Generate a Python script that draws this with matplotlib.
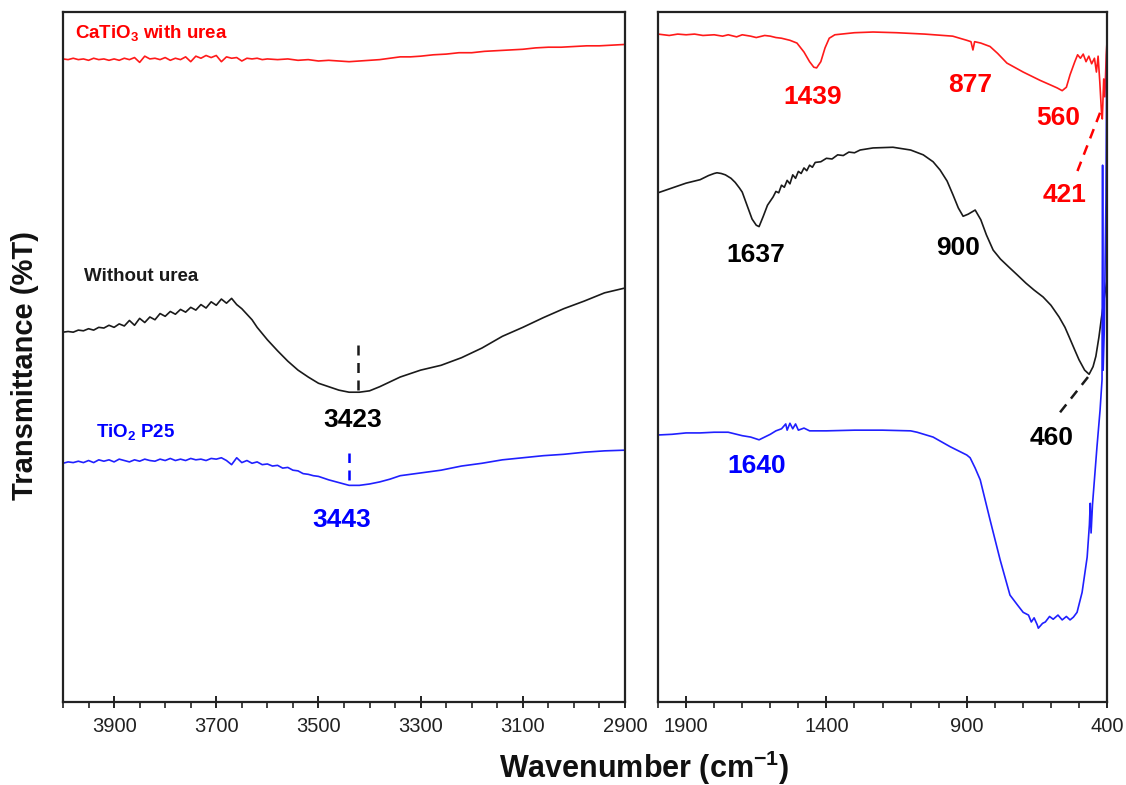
import matplotlib
matplotlib.use('Agg')
from matplotlib import pyplot as plt
from matplotlib.ticker import MultipleLocator

plt.rcParams['font.family'] = ['Liberation Sans', 'DejaVu Sans']
plt.rcParams['mathtext.default'] = 'regular'

# ---- left panel (4000-2900 cm-1) ----
wn_left_red = [4000, 3990, 3980, 3970, 3960, 3950, 3940, 3930, 3920, 3910, 3900, 3890, 3880,
               3870, 3860, 3850, 3840, 3830, 3820, 3810, 3800, 3790, 3780, 3770, 3760, 3750,
               3740, 3730, 3720, 3710, 3700, 3690, 3680, 3670, 3660, 3650, 3640, 3630, 3620,
               3610, 3600, 3580, 3560, 3540, 3520, 3500, 3480, 3460, 3440, 3420, 3400, 3380,
               3360, 3340, 3320, 3300, 3275, 3250, 3225, 3200, 3175, 3150, 3125, 3100, 3075,
               3050, 3025, 3000, 2975, 2950, 2925, 2900]
t_left_red = [93.2, 93.1, 93.3, 93.1, 93.2, 93.0, 93.3, 93.1, 93.2, 93.0, 93.2, 93.0, 93.3,
              93.1, 93.4, 92.7, 93.6, 93.2, 93.3, 93.1, 93.4, 93.0, 93.3, 93.1, 93.5, 92.8,
              93.6, 93.3, 93.7, 93.4, 93.7, 92.8, 93.5, 93.3, 93.4, 92.9, 93.3, 93.2, 93.3,
              93.1, 93.2, 93.1, 93.2, 93.0, 93.1, 92.9, 93.0, 92.9, 92.8, 92.9, 93.0, 93.1,
              93.3, 93.5, 93.5, 93.6, 93.8, 93.9, 94.1, 94.1, 94.3, 94.4, 94.5, 94.6, 94.8,
              94.9, 94.9, 95.0, 95.1, 95.1, 95.2, 95.3]

wn_left_black = [4000, 3990, 3980, 3970, 3960, 3950, 3940, 3930, 3920, 3910, 3900, 3890, 3880,
                 3870, 3860, 3850, 3840, 3830, 3820, 3810, 3800, 3790, 3780, 3770, 3760, 3750,
                 3740, 3730, 3720, 3710, 3700, 3690, 3680, 3670, 3660, 3650, 3640, 3630, 3620,
                 3600, 3580, 3560, 3540, 3520, 3500, 3480, 3460, 3440, 3420, 3400, 3380, 3360,
                 3340, 3300, 3260, 3220, 3180, 3140, 3100, 3060, 3020, 2980, 2940, 2900]
t_left_black = [53.6, 53.7, 53.6, 53.9, 53.8, 54.1, 53.9, 54.3, 54.2, 54.6, 54.3, 54.8, 54.5,
                55.3, 54.6, 55.6, 55.0, 55.8, 55.4, 56.3, 55.9, 56.6, 56.2, 56.9, 56.5, 57.2,
                56.8, 57.6, 57.1, 58.0, 57.5, 58.4, 57.8, 58.5, 57.6, 57.0, 56.2, 55.4, 54.3,
                52.5, 50.9, 49.4, 48.1, 47.1, 46.2, 45.7, 45.2, 44.9, 44.9, 45.1, 45.7, 46.4,
                47.1, 48.1, 48.8, 49.9, 51.3, 53.0, 54.3, 55.7, 57.0, 58.1, 59.3, 60.0]

wn_left_blue = [4000, 3990, 3980, 3970, 3960, 3950, 3940, 3930, 3920, 3910, 3900, 3890, 3880,
                3870, 3860, 3850, 3840, 3830, 3820, 3810, 3800, 3790, 3780, 3770, 3760, 3750,
                3740, 3730, 3720, 3710, 3700, 3690, 3680, 3670, 3660, 3650, 3640, 3630, 3620,
                3610, 3600, 3590, 3580, 3570, 3560, 3550, 3540, 3530, 3520, 3510, 3500, 3480,
                3460, 3440, 3420, 3400, 3380, 3360, 3340, 3300, 3260, 3220, 3180, 3140, 3100,
                3060, 3020, 2980, 2940, 2900]
t_left_blue = [34.6, 34.8, 34.7, 34.9, 34.7, 35.0, 34.7, 35.1, 34.9, 35.1, 34.8, 35.2, 35.0,
               34.8, 35.1, 34.9, 35.2, 35.0, 34.9, 35.2, 35.0, 35.3, 35.0, 35.2, 35.0, 35.3,
               35.1, 35.2, 35.0, 35.3, 35.2, 35.4, 35.0, 34.4, 35.4, 34.7, 35.0, 34.6, 34.8,
               34.4, 34.5, 34.2, 34.3, 33.9, 34.0, 33.6, 33.5, 33.1, 33.0, 32.8, 32.7, 32.2,
               31.8, 31.4, 31.4, 31.6, 31.9, 32.3, 32.8, 33.2, 33.6, 34.2, 34.6, 35.1, 35.4,
               35.7, 35.9, 36.2, 36.4, 36.5]

# ---- right panel (2000-400 cm-1) ----
wn_right_red = [2000, 1960, 1930, 1900, 1870, 1840, 1800, 1770, 1750, 1720, 1700, 1670, 1650,
                1620, 1600, 1580, 1560, 1530, 1505, 1480, 1460, 1445, 1435, 1420, 1405, 1390,
                1370, 1300, 1234, 1150, 1050, 950, 900, 885, 878, 872, 850, 817, 790, 757, 699,
                639, 600, 578, 560, 545, 532, 515, 505, 495, 485, 475, 465, 455, 445, 438,
                432, 426, 420, 417, 412, 408, 403, 400]
t_right_red = [96.8, 96.6, 96.8, 96.7, 96.8, 96.6, 96.7, 96.5, 96.7, 96.4, 96.7, 96.5, 96.3,
               96.6, 96.5, 96.3, 96.2, 95.9, 95.5, 94.2, 92.8, 92.0, 91.9, 92.8, 94.8, 96.2,
               96.7, 97.0, 97.1, 97.0, 96.8, 96.5, 95.9, 95.7, 94.5, 95.7, 95.5, 95.0, 94.0,
               92.6, 91.3, 90.1, 89.4, 89.0, 88.6, 89.1, 90.9, 92.8, 93.8, 93.3, 93.9, 92.8,
               93.6, 92.5, 93.3, 91.3, 93.6, 89.9, 85.5, 84.5, 90.3, 87.7, 93.8, 95.9]

wn_right_black = [2000, 1950, 1900, 1850, 1820, 1800, 1790, 1775, 1760, 1740, 1725, 1710, 1700,
                  1683, 1665, 1650, 1640, 1625, 1610, 1590, 1580, 1570, 1560, 1550, 1540, 1530,
                  1520, 1510, 1500, 1490, 1480, 1470, 1460, 1450, 1440, 1420, 1400, 1380, 1360,
                  1340, 1320, 1300, 1280, 1234, 1163, 1100, 1055, 1020, 995, 970, 949, 930, 913,
                  895, 870, 850, 830, 806, 780, 749, 720, 689, 660, 628, 600, 571, 550, 535,
                  515, 500, 480, 464, 450, 440, 429, 420, 410, 400]
t_right_black = [73.8, 74.5, 75.2, 75.7, 76.3, 76.6, 76.7, 76.6, 76.4, 75.9, 75.3, 74.5, 73.9,
                 72.0, 70.0, 69.1, 68.9, 70.4, 72.0, 73.2, 74.0, 73.8, 74.9, 74.6, 75.6, 75.1,
                 76.4, 75.9, 76.9, 76.6, 77.4, 77.0, 77.8, 77.5, 78.2, 78.3, 78.8, 78.7, 79.3,
                 79.2, 79.7, 79.6, 80.0, 80.3, 80.4, 80.0, 79.3, 78.3, 77.1, 75.5, 73.5, 71.6,
                 70.4, 70.7, 71.3, 69.9, 67.7, 65.5, 64.2, 63.0, 61.9, 60.7, 59.7, 58.7, 57.5,
                 55.8, 54.3, 52.9, 51.0, 49.6, 48.1, 47.5, 48.6, 50.1, 52.9, 55.7, 58.6, 61.2]

wn_right_blue = [2000, 1950, 1900, 1850, 1800, 1750, 1720, 1700, 1670, 1640, 1620, 1600, 1580,
                 1560, 1545, 1540, 1530, 1520, 1510, 1500, 1480, 1460, 1400, 1300, 1200, 1100,
                 1077, 1020, 959, 900, 888, 870, 852, 817, 781, 746, 720, 699, 680, 670, 660,
                 649, 645, 630, 620, 605, 592, 575, 560, 545, 532, 520, 507, 489, 471, 463,
                 460, 457, 452, 436, 425, 418, 416, 414, 410, 404, 400]
t_right_blue = [38.7, 38.8, 39.0, 39.0, 39.1, 39.1, 38.8, 38.6, 38.4, 38.0, 38.4, 38.8, 39.3,
                39.6, 40.3, 39.4, 40.4, 39.6, 40.3, 39.4, 39.7, 39.3, 39.3, 39.4, 39.4, 39.3,
                39.1, 38.4, 37.0, 35.8, 35.4, 33.9, 32.2, 26.4, 20.6, 15.5, 14.1, 13.0, 12.6,
                11.6, 12.2, 11.2, 10.7, 11.4, 11.6, 12.4, 12.0, 12.6, 11.9, 12.4, 11.9, 12.3,
                13.0, 15.9, 21.0, 25.7, 28.8, 24.5, 28.6, 37.0, 42.3, 46.7, 77.8, 48.1, 53.9,
                72.8, 101.7]

fig = plt.figure(figsize=(11.26, 7.85), dpi=100)
ax1 = fig.add_axes([0.05595, 0.1057, 0.4991, 0.8790])
ax2 = fig.add_axes([0.5844, 0.1057, 0.3988, 0.8790])

lw = 1.2
ax1.plot(wn_left_red, t_left_red, color='#ff1a1a', lw=lw)
ax1.plot(wn_left_black, t_left_black, color='#1a1a1a', lw=lw)
ax1.plot(wn_left_blue, t_left_blue, color='#2020ff', lw=lw)
ax2.plot(wn_right_red, t_right_red, color='#ff1a1a', lw=lw)
ax2.plot(wn_right_black, t_right_black, color='#1a1a1a', lw=lw)
ax2.plot(wn_right_blue, t_right_blue, color='#2020ff', lw=lw)

# peak marker lines
ax1.plot([3423, 3423], [45.2, 52.0], color='#1a1a1a', ls=(0, (4, 3)), lw=1.8)
ax1.plot([3441, 3441], [32.2, 36.1], color='blue', ls=(0, (4, 3)), lw=1.8)
ax2.plot([425, 507], [85.4, 76.8], color='red', ls=(0, (4, 3)), lw=1.8)
ax2.plot([468, 575], [47.1, 41.6], color='#1a1a1a', ls=(0, (4, 3)), lw=1.8)

# sample labels
ax1.text(3976, 97.0, 'CaTiO$_3$ with urea', color='red', fontsize=13.5, fontweight='bold', va='center')
ax1.text(3959, 61.7, 'Without urea', color='#1a1a1a', fontsize=13.5, fontweight='bold', va='center')
ax1.text(3935, 39.1, 'TiO$_2$ P25', color='blue', fontsize=13.5, fontweight='bold', va='center')

pk = dict(fontsize=19, fontweight='bold', ha='center', va='center')
ax1.text(3433, 40.9, '3423', color='black', **pk)
ax1.text(3455, 26.4, '3443', color='blue', **pk)
ax2.text(1448, 87.7, '1439', color='red', **pk)
ax2.text(888, 89.4, '877', color='red', **pk)
ax2.text(574, 84.6, '560', color='red', **pk)
ax2.text(550, 73.5, '421', color='red', **pk)
ax2.text(1651, 64.8, '1637', color='black', **pk)
ax2.text(931, 65.8, '900', color='black', **pk)
ax2.text(599, 38.3, '460', color='black', **pk)
ax2.text(1647, 34.2, '1640', color='blue', **pk)

ax1.set_xlim(4000, 2900)
ax2.set_xlim(2000, 400)
ax1.set_xticks([3900, 3700, 3500, 3300, 3100, 2900])
ax1.xaxis.set_minor_locator(MultipleLocator(50))
ax2.set_xticks([1900, 1400, 900, 400])
ax2.xaxis.set_minor_locator(MultipleLocator(100))

for ax in (ax1, ax2):
    ax.set_ylim(0, 100)
    ax.set_yticks([])
    for s in ax.spines.values():
        s.set_linewidth(1.6)
        s.set_color('#222222')
    ax.tick_params(axis='x', which='major', direction='inout', length=9, width=1.4,
                   labelsize=14.5, pad=6, colors='#222222')
    ax.tick_params(axis='x', which='minor', direction='out', length=4, width=1.2, colors='#222222')

fig.text(644 / 1126, 1 - 768 / 785, 'Wavenumber (cm$^{-1}$)', fontsize=22, fontweight='bold',
         ha='center', va='center', color='#111111')
fig.text(25 / 1126, 1 - 365 / 785, 'Transmittance (%T)', fontsize=21, fontweight='bold',
         ha='center', va='center', rotation=90, color='#111111')

plt.savefig('out.png', dpi=100)
